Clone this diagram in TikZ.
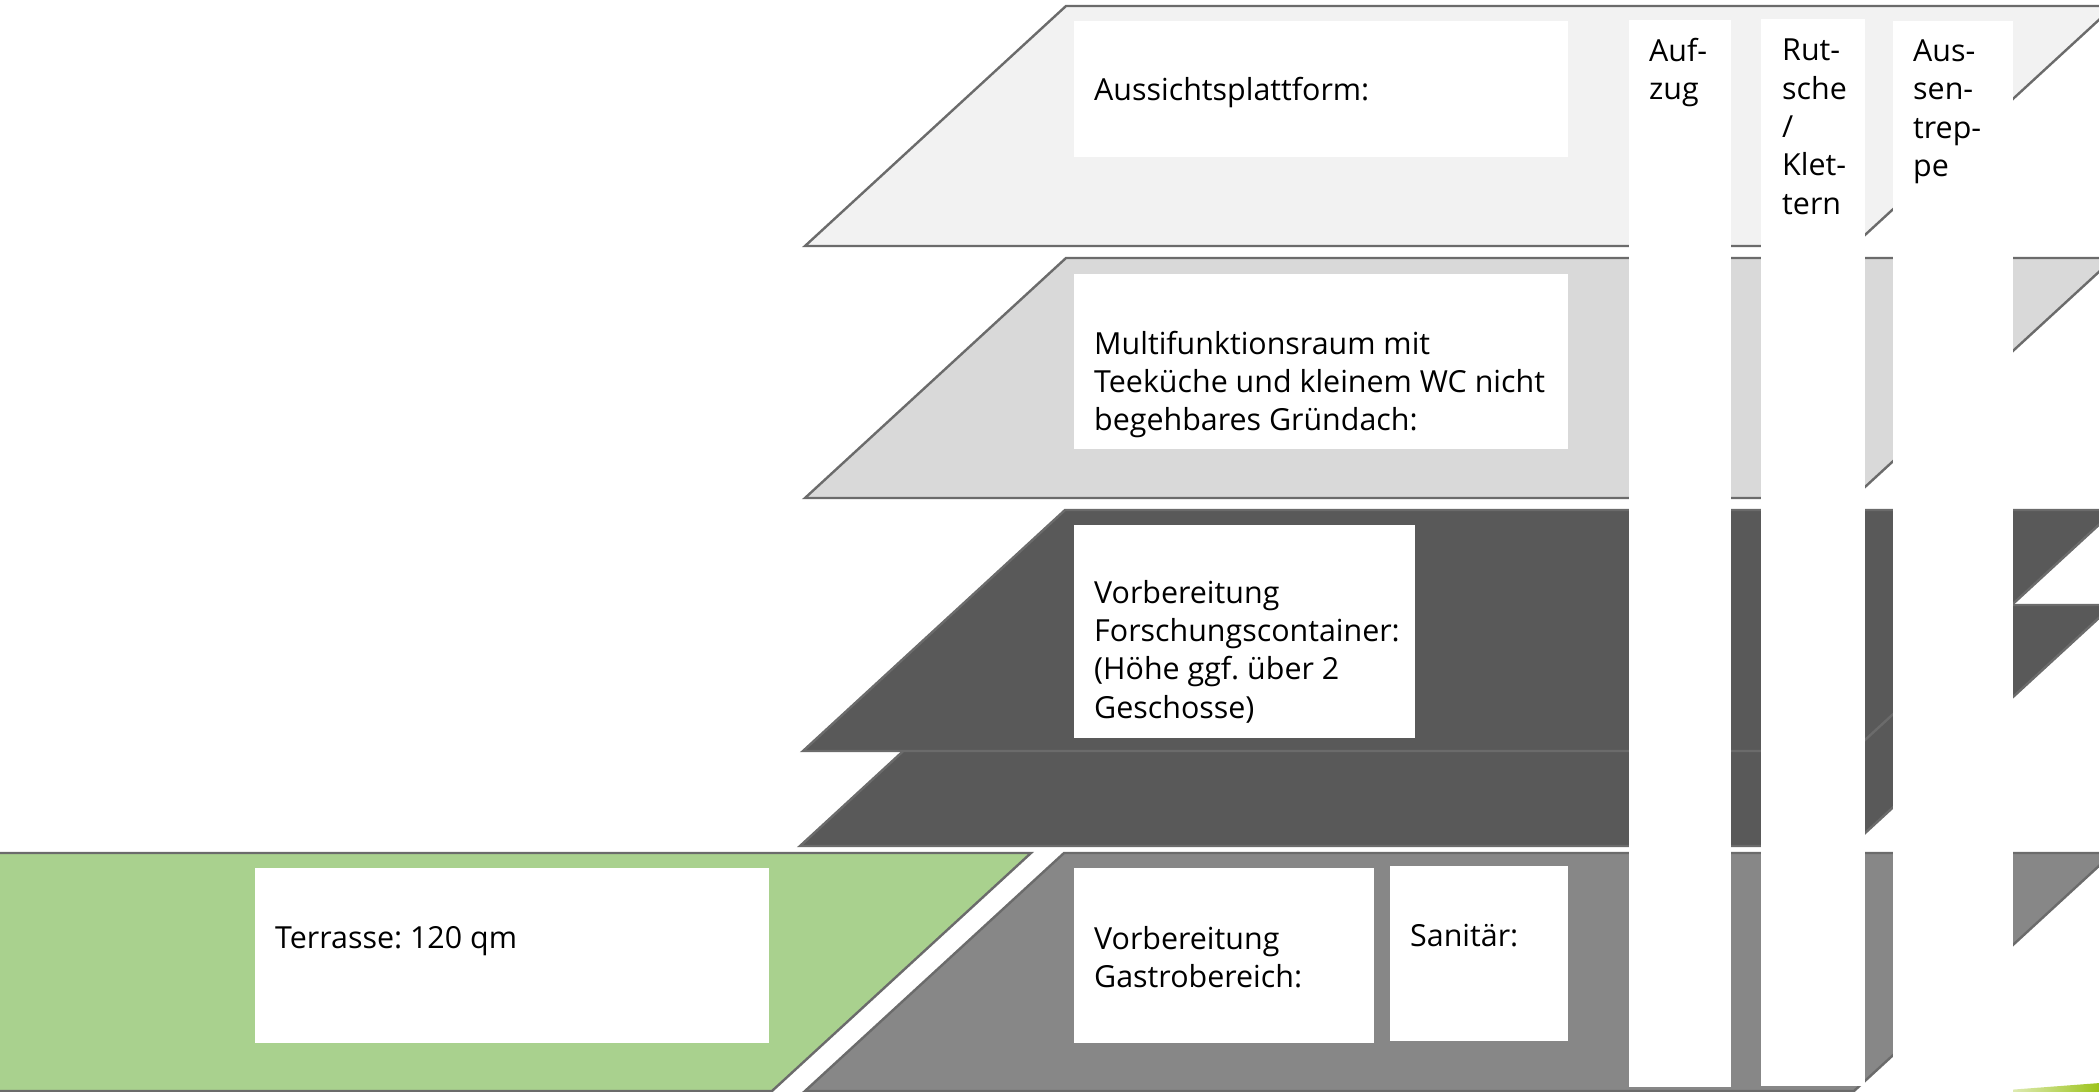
\documentclass[tikz,border=0pt]{standalone}
\usepackage{fontspec}
\setmainfont{Open Sans}
\frenchspacing
\definecolor{strokegray}{HTML}{6B6B6B}
\definecolor{plA}{HTML}{F2F2F2}
\definecolor{plB}{HTML}{D9D9D9}
\definecolor{plDark}{HTML}{595959}
\definecolor{plMid}{HTML}{878787}
\definecolor{plGreen}{HTML}{A9D18E}
\definecolor{wedgeGreen}{HTML}{9CC31A}
\begin{document}
\begin{tikzpicture}[x=1pt,y=-1pt,
  plate/.style={draw=strokegray, line width=2.4pt, line join=miter},
  wbox/.style={fill=white, draw=none, inner sep=0pt, outer sep=0pt, anchor=north west},
  lbl/.style={anchor=base west, inner sep=0pt, align=left, font=\fontsize{30.4}{38.3}\selectfont\frenchspacing, text=black},
]
\useasboundingbox (0,0) rectangle (2099,1092);
\fill[white] (0,0) rectangle (2099,1092);
\clip (0,0) rectangle (2099,1092);

% plates
\path[plate, fill=plA] (805,246) -- (1066,6) -- (2114,6) -- (1853,246) -- cycle;
\path[plate, fill=plB] (805,498) -- (1066,258) -- (2114,258) -- (1853,498) -- cycle;
\path[plate, fill=plDark] (800,846) -- (1062,605) -- (2113,605) -- (1851,846) -- cycle;
\path[plate, fill=plDark] (803,751) -- (1065,510) -- (2115,510) -- (1853,751) -- cycle;
\path[plate, fill=plMid] (805,1091) -- (1064,853) -- (2113,853) -- (1854,1091) -- cycle;
\path[plate, fill=plGreen] (-20,1091) -- (-20,853) -- (1031,853) -- (772,1091) -- cycle;

% decorative wedge
\shade[left color=white, right color=wedgeGreen] (1968,1093) -- (2100,1083) -- (2100,1093) -- cycle;

% white boxes
\node[wbox, minimum width=494, minimum height=136] (boxA) at (1074,21) {};
\node[wbox, minimum width=494, minimum height=175] (boxB) at (1074,274) {};
\node[wbox, minimum width=341, minimum height=213] (boxC) at (1074,525) {};
\node[wbox, minimum width=300, minimum height=175] (boxE1) at (1074,868) {};
\node[wbox, minimum width=178, minimum height=175] (boxE2) at (1390,866) {};
\node[wbox, minimum width=514, minimum height=175] (boxT) at (255,868) {};

% columns
\node[wbox, minimum width=102, minimum height=1067] (col1) at (1629,20) {};
\node[wbox, minimum width=104, minimum height=1067] (col2) at (1761,19) {};
\node[wbox, minimum width=120, minimum height=1075] (col3) at (1893,21) {};

% texts (base anchor = baseline of the last line)
\node[lbl] (tA) at (1094,100) {Aussichtsplattform:};
\node[lbl] (tB) at (1094,430.6) {Multifunktionsraum mit\\Teeküche und kleinem WC nicht\\begehbares Gründach:};
\node[lbl] (tC) at (1094,718) {Vorbereitung\\Forschungscontainer:\\(Höhe ggf. über 2\\Geschosse)};
\node[lbl] (tE1) at (1094,987.3) {Vorbereitung\\Gastrobereich:};
\node[lbl] (tE2) at (1410,946) {Sanitär:};
\node[lbl] (tT) at (275,948) {Terrasse: 120 qm};
\node[lbl] (c1) at (1649,99.8) {Auf-\\zug};
\node[lbl] (c2) at (1782,214) {Rut-\\sche\\/\\Klet-\\tern};
\node[lbl] (c3) at (1913,176.4) {Aus-\\sen-\\trep-\\pe};
\end{tikzpicture}
\end{document}
